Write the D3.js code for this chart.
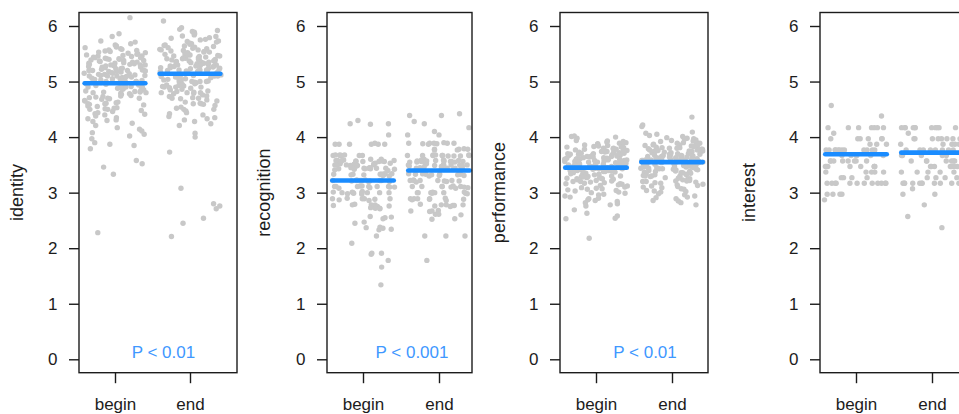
<!DOCTYPE html>
<html>
<head>
<meta charset="utf-8">
<script src="https://cdn.jsdelivr.net/npm/d3@7"></script>
<style>
  html, body { margin: 0; padding: 0; background: #fff; }
  svg { display: block; }
  text { font-family: "Liberation Sans", Arial, Helvetica, sans-serif; }
</style>
</head>
<body>
<svg id="chart" width="959" height="414"></svg>
<script>
// ---------------- DATA ----------------
const measures = ["identity", "recognition", "performance", "interest"];
const groups = ["begin", "end"];
const yTicks = [0, 1, 2, 3, 4, 5, 6];
const pLabels = ["P < 0.01", "P < 0.001", "P < 0.01", ""];

const identityMeans = [4.97, 5.14];
const recognitionMeans = [3.22, 3.40];
const performanceMeans = [3.45, 3.55];
const interestMeans = [3.69, 3.72];

const identityBegin = [6.15,5.86,5.81,5.73,5.71,5.68,5.66,5.64,5.62,5.61,
5.59,5.58,5.57,5.56,5.55,5.54,5.53,5.52,5.51,5.50,
5.49,5.48,5.47,5.46,5.46,5.45,5.44,5.43,5.43,5.42,5.41,5.41,5.40,5.40,
5.39,5.38,5.38,5.37,5.36,5.35,5.35,5.34,5.33,5.33,5.32,5.31,5.31,5.30,5.30,5.30,
5.29,5.28,5.28,5.27,5.26,5.26,5.25,5.24,5.23,5.23,5.22,5.21,5.21,5.20,5.20,5.20,
5.19,5.18,5.18,5.17,5.16,5.15,5.15,5.14,5.13,5.13,5.12,5.11,5.11,5.10,5.10,5.10,
5.09,5.08,5.07,5.07,5.06,5.05,5.05,5.04,5.03,5.02,5.02,5.01,5.00,5.00,5.00,
4.99,4.98,4.97,4.96,4.95,4.94,4.93,4.93,4.92,4.91,4.90,4.90,4.90,4.89,
4.88,4.87,4.86,4.85,4.84,4.83,4.82,4.81,4.81,4.80,4.80,4.79,
4.78,4.77,4.75,4.74,4.73,4.72,4.71,4.70,4.70,4.69,
4.68,4.66,4.65,4.63,4.62,4.61,4.60,4.60,4.59,
4.58,4.56,4.55,4.53,4.52,4.51,4.50,4.50,
4.48,4.46,4.44,4.42,4.41,4.40,
4.38,4.35,4.33,4.31,4.30,
4.28,4.25,4.21,4.17,4.14,4.11,4.08,4.05,4.02,
3.97,3.90,3.87,3.85,3.79,3.58,3.52,3.46,3.33,2.28];

const identityEnd = [6.09,5.97,5.94,5.92,5.90,
5.89,5.87,5.86,5.84,5.82,5.81,
5.79,5.78,5.76,5.75,5.73,5.72,5.71,
5.69,5.68,5.67,5.66,5.65,5.64,5.63,5.62,5.61,5.60,
5.59,5.58,5.57,5.57,5.56,5.55,5.54,5.53,5.53,5.52,5.51,5.50,5.50,
5.49,5.48,5.48,5.47,5.46,5.46,5.45,5.44,5.43,5.43,5.42,5.41,5.41,5.40,5.40,5.40,
5.39,5.38,5.38,5.37,5.37,5.36,5.35,5.35,5.34,5.34,5.33,5.32,5.32,5.31,5.31,5.30,5.30,5.30,
5.29,5.28,5.28,5.27,5.27,5.26,5.25,5.25,5.24,5.24,5.23,5.22,5.22,5.21,5.21,5.20,5.20,5.20,
5.19,5.18,5.18,5.17,5.16,5.16,5.15,5.14,5.13,5.13,5.12,5.11,5.11,5.10,5.10,5.10,
5.09,5.08,5.07,5.06,5.05,5.05,5.04,5.03,5.02,5.01,5.00,5.00,5.00,5.00,
4.99,4.98,4.96,4.95,4.94,4.93,4.92,4.91,4.90,4.90,4.90,4.89,
4.88,4.86,4.85,4.83,4.82,4.81,4.80,4.80,4.80,4.79,
4.78,4.76,4.74,4.73,4.71,4.70,4.70,4.69,
4.67,4.65,4.63,4.61,4.60,4.60,4.59,
4.57,4.54,4.52,4.50,4.50,4.47,4.44,4.42,4.40,
4.37,4.35,4.33,4.31,4.28,4.24,4.21,4.07,4.00,
3.73,3.08,2.80,2.76,2.71,2.54,2.45,2.21];

const recognitionBegin = [4.30,4.24,4.24,4.23,4.04,
3.89,3.87,3.87,3.87,3.87,3.87,3.87,
3.68,3.68,3.68,3.67,3.67,3.67,3.67,3.67,
3.60,3.60,3.59,3.59,3.58,3.58,3.58,3.57,3.57,3.56,3.56,3.56,3.56,3.56,
3.53,3.53,3.52,3.52,3.51,3.51,3.50,3.50,3.50,3.50,3.49,3.49,3.48,3.48,
3.45,3.45,3.44,3.44,3.44,3.44,3.44,3.43,3.43,3.43,3.42,3.42,3.41,3.40,
3.34,3.34,3.33,3.33,3.33,3.33,3.33,3.33,3.32,3.32,3.31,3.30,
3.23,3.23,3.22,3.22,3.22,3.22,3.22,3.22,3.21,3.21,3.20,3.20,
3.12,3.12,3.11,3.11,3.11,3.11,3.11,3.11,3.10,3.10,3.09,3.08,
3.02,3.01,3.01,3.00,3.00,3.00,3.00,3.00,3.00,2.99,2.98,2.97,
2.90,2.89,2.89,2.89,2.89,2.88,2.87,2.86,
2.79,2.78,2.78,2.78,2.77,2.76,2.75,
2.73,2.72,2.72,2.71,2.57,2.56,2.55,2.53,2.47,2.45,
2.38,2.37,2.36,2.34,2.33,
2.22,2.09,1.91,1.91,1.89,1.78,1.66,1.34];

const recognitionEnd = [4.42,4.39,4.39,4.28,4.24,4.17,4.10,4.04,4.04,
3.90,3.89,3.89,3.89,3.89,3.89,3.88,3.88,3.87,
3.79,3.78,3.78,3.78,3.77,3.77,
3.68,3.68,3.68,3.67,3.67,3.67,3.67,3.67,3.67,3.66,3.66,3.66,
3.60,3.59,3.59,3.58,3.58,3.57,3.57,3.57,3.56,3.56,3.56,3.56,3.56,3.55,3.55,3.55,
3.52,3.51,3.51,3.50,3.50,3.50,3.50,3.49,3.49,3.48,3.48,3.47,3.47,3.46,
3.45,3.45,3.44,3.44,3.44,3.44,3.44,3.43,3.43,3.43,3.42,3.42,3.41,3.41,
3.34,3.34,3.33,3.33,3.33,3.33,3.33,3.32,3.32,3.31,3.31,3.30,
3.23,3.22,3.22,3.22,3.22,3.22,3.21,3.21,3.20,3.19,
3.12,3.11,3.11,3.11,3.11,3.11,3.10,3.10,3.09,3.08,
3.01,3.01,3.00,3.00,3.00,3.00,3.00,2.99,2.99,2.98,
2.90,2.89,2.89,2.89,2.89,2.88,2.88,2.87,2.86,
2.79,2.78,2.78,2.78,2.77,2.77,2.76,2.75,
2.68,2.67,2.67,2.66,2.61,2.61,2.60,2.53,2.52,
2.22,2.22,2.22,1.78];

const performanceBegin = [4.02,4.01,4.00,3.98,
3.94,3.93,3.92,3.91,3.90,3.89,3.88,3.87,3.87,3.86,
3.85,3.84,3.83,3.82,3.82,3.81,3.80,3.80,3.79,3.79,3.78,3.78,3.77,3.77,3.76,3.75,
3.75,3.74,3.74,3.73,3.73,3.72,3.72,3.71,3.71,3.70,3.70,3.70,3.69,3.69,3.68,3.68,3.67,3.67,3.66,3.66,3.65,3.65,
3.65,3.64,3.64,3.63,3.63,3.62,3.62,3.61,3.61,3.60,3.60,3.60,3.60,3.59,3.59,3.58,3.58,3.57,3.57,3.56,3.56,3.55,3.55,
3.55,3.54,3.54,3.53,3.53,3.52,3.52,3.51,3.51,3.50,3.50,3.50,3.49,3.49,3.48,3.48,3.47,3.47,3.46,3.46,3.45,3.45,3.45,3.45,
3.44,3.44,3.43,3.43,3.42,3.42,3.41,3.40,3.40,3.40,3.39,3.39,3.38,3.38,3.37,3.37,3.36,3.36,3.35,3.35,
3.34,3.33,3.33,3.32,3.31,3.30,3.30,3.29,3.29,3.28,3.27,3.27,3.26,3.26,3.25,3.25,
3.24,3.23,3.22,3.21,3.20,3.20,3.19,3.18,3.17,3.16,3.16,3.15,
3.14,3.13,3.12,3.10,3.09,3.08,3.07,3.06,3.05,
3.04,3.03,3.01,3.00,2.99,2.97,2.96,
2.94,2.92,2.90,2.89,2.87,2.86,2.84,2.82,2.80,2.78,
2.76,2.69,2.63,2.58,2.54,2.53,2.18];

const performanceEnd = [4.36,4.22,4.19,4.09,4.07,4.05,4.03,4.01,
3.99,3.98,3.97,3.96,3.95,3.94,3.93,3.92,3.91,3.90,
3.89,3.89,3.88,3.87,3.86,3.86,3.85,3.84,3.84,3.83,3.82,3.81,3.81,3.80,
3.80,3.79,3.79,3.78,3.78,3.77,3.77,3.76,3.76,3.75,3.75,3.75,3.74,3.74,3.73,3.73,3.72,3.72,3.71,3.70,
3.70,3.69,3.69,3.68,3.68,3.67,3.67,3.66,3.66,3.66,3.65,3.65,3.65,3.64,3.64,3.63,3.63,3.62,3.62,3.62,3.61,3.61,3.61,3.60,3.60,
3.60,3.59,3.59,3.59,3.58,3.58,3.58,3.57,3.57,3.57,3.56,3.56,3.56,3.55,3.55,3.55,3.54,3.54,3.54,3.53,3.53,3.52,3.52,3.51,3.51,3.50,
3.50,3.49,3.49,3.48,3.48,3.47,3.47,3.46,3.46,3.45,3.45,3.44,3.44,3.43,3.43,3.42,3.42,3.41,3.41,3.40,
3.39,3.38,3.38,3.37,3.36,3.36,3.35,3.34,3.33,3.32,3.32,3.31,3.30,3.30,3.30,
3.29,3.28,3.27,3.26,3.25,3.24,3.23,3.22,3.21,3.21,3.20,3.20,
3.19,3.18,3.17,3.15,3.14,3.13,3.12,3.11,3.10,
3.09,3.07,3.06,3.04,3.03,3.02,3.01,
2.98,2.96,2.94,2.92,2.91,2.89,2.86,2.85,2.82,2.78];

const interestBegin = [4.57,4.38,
4.17,4.17,4.17,4.17,4.17,4.17,4.17,
4.07,
3.97,3.97,3.97,3.97,3.97,3.97,
3.87,3.87,3.87,
3.77,3.77,3.77,3.77,3.77,3.77,3.77,3.77,3.77,3.77,3.77,3.77,
3.67,3.67,3.67,3.67,3.67,3.67,
3.57,3.57,3.57,3.57,3.57,3.57,3.57,3.57,
3.47,3.47,3.47,3.47,3.47,3.47,3.47,3.47,
3.37,3.37,3.37,3.37,3.37,
3.27,3.27,3.27,3.27,
3.17,3.17,3.17,3.17,3.17,3.17,3.17,3.17,3.17,3.17,3.17,3.17,
2.97,2.97,2.97,2.97,
2.87];

const interestEnd = [4.37,
4.17,4.17,4.17,4.17,4.17,4.17,4.17,4.17,4.17,4.17,4.17,
4.07,
3.97,3.97,3.97,3.97,3.97,3.97,3.97,3.97,3.97,3.97,
3.87,3.87,3.87,3.87,3.87,
3.77,3.77,3.77,3.77,3.77,3.77,3.77,3.77,
3.67,3.67,3.67,3.67,3.67,3.67,
3.57,3.57,3.57,3.57,3.57,3.57,3.57,
3.47,3.47,3.47,3.47,3.47,3.47,3.47,
3.37,3.37,3.37,3.37,3.37,
3.27,3.27,3.27,3.27,
3.17,3.17,3.17,3.17,3.17,3.17,3.17,3.17,3.17,3.17,3.17,
3.07,2.97,2.97,2.78,2.57,2.37];

const seriesByMeasure = [
  [identityBegin, identityEnd],
  [recognitionBegin, recognitionEnd],
  [performanceBegin, performanceEnd],
  [interestBegin, interestEnd]
];
const meansByMeasure = [identityMeans, recognitionMeans, performanceMeans, interestMeans];

// ---------------- LAYOUT ----------------
const panels = [
  { left: 79,  right: 237, bx: 115, ex: 190, titleX: 23 },
  { left: 327, right: 472, bx: 363, ex: 439, titleX: 270 },
  { left: 560, right: 708, bx: 596, ex: 672, titleX: 505 },
  { left: 820, right: 972, bx: 856, ex: 932, titleX: 754.5 }
];
const boxTop = 12.5, boxBottom = 372.7;
const y = d3.scaleLinear().domain([0, 6]).range([359.3, 26]);

const BLUE = "#1a8cff";
const PBLUE = "#3f98ff";
const DOT = "#c8c8c8";
const INK = "#1c1c1c";
const FONT = '"Liberation Sans", Arial, Helvetica, sans-serif';

const svg = d3.select("#chart");
svg.append("rect").attr("width", 959).attr("height", 414).attr("fill", "#fff");

// deterministic horizontal spread (stable hash of the point index), display only
function jitter(i, seed) {
  const s = Math.sin((i + 1) * 12.9898 + seed * 78.233) * 43758.5453;
  return (s - Math.floor(s)) * 2 - 1;
}

measures.forEach((m, pi) => {
  const p = panels[pi];
  const x = d3.scalePoint().domain(groups).range([p.bx, p.ex]);
  const step = p.ex - p.bx;
  const halfW = 0.415 * step;
  const g = svg.append("g");

  // dots
  groups.forEach((grp, gi) => {
    const vals = seriesByMeasure[pi][gi];
    g.append("g").selectAll("circle")
      .data(vals)
      .join("circle")
      .attr("cx", (d, i) => x(grp) + jitter(i, 1 + gi + 2 * pi) * halfW)
      .attr("cy", d => y(d))
      .attr("r", 2.7)
      .attr("fill", DOT);
  });

  // mean lines
  g.append("g").selectAll("line")
    .data(groups)
    .join("line")
    .attr("x1", d => x(d) - 0.405 * step)
    .attr("x2", d => x(d) + 0.405 * step)
    .attr("y1", (d, i) => y(meansByMeasure[pi][i]))
    .attr("y2", (d, i) => y(meansByMeasure[pi][i]))
    .attr("stroke", BLUE)
    .attr("stroke-width", 4.6)
    .attr("stroke-linecap", "round");

  // box
  g.append("rect")
    .attr("x", p.left).attr("y", boxTop)
    .attr("width", p.right - p.left).attr("height", boxBottom - boxTop)
    .attr("fill", "none").attr("stroke", INK).attr("stroke-width", 1.4);

  // y axis
  const ya = g.append("g")
    .attr("transform", `translate(${p.left},0)`)
    .call(d3.axisLeft(y).tickValues(yTicks).tickFormat(d3.format("d")).tickSize(10).tickPadding(11.5));
  ya.select(".domain").remove();
  ya.selectAll(".tick line").attr("stroke", INK).attr("stroke-width", 1.4);
  ya.selectAll(".tick text").attr("fill", INK).attr("font-size", 17).attr("font-family", FONT);

  // x axis
  const xa = g.append("g")
    .attr("transform", `translate(0,${boxBottom})`)
    .call(d3.axisBottom(x).tickSize(10.5).tickPadding(15));
  xa.select(".domain").remove();
  xa.selectAll(".tick line").attr("stroke", INK).attr("stroke-width", 1.4);
  xa.selectAll(".tick text").attr("fill", INK).attr("font-size", 17).attr("font-family", FONT);

  // axis title
  g.append("text")
    .attr("transform", `translate(${p.titleX},${(boxTop + boxBottom) / 2}) rotate(-90)`)
    .attr("text-anchor", "middle")
    .attr("font-size", 18)
    .attr("fill", INK)
    .text(m);

  // p-value label
  if (pLabels[pi]) {
    g.append("text")
      .attr("x", p.bx + 0.645 * step)
      .attr("y", y(0) - 1)
      .attr("text-anchor", "middle")
      .attr("font-size", 17)
      .attr("fill", PBLUE)
      .text(pLabels[pi]);
  }
});
</script>
</body>
</html>
